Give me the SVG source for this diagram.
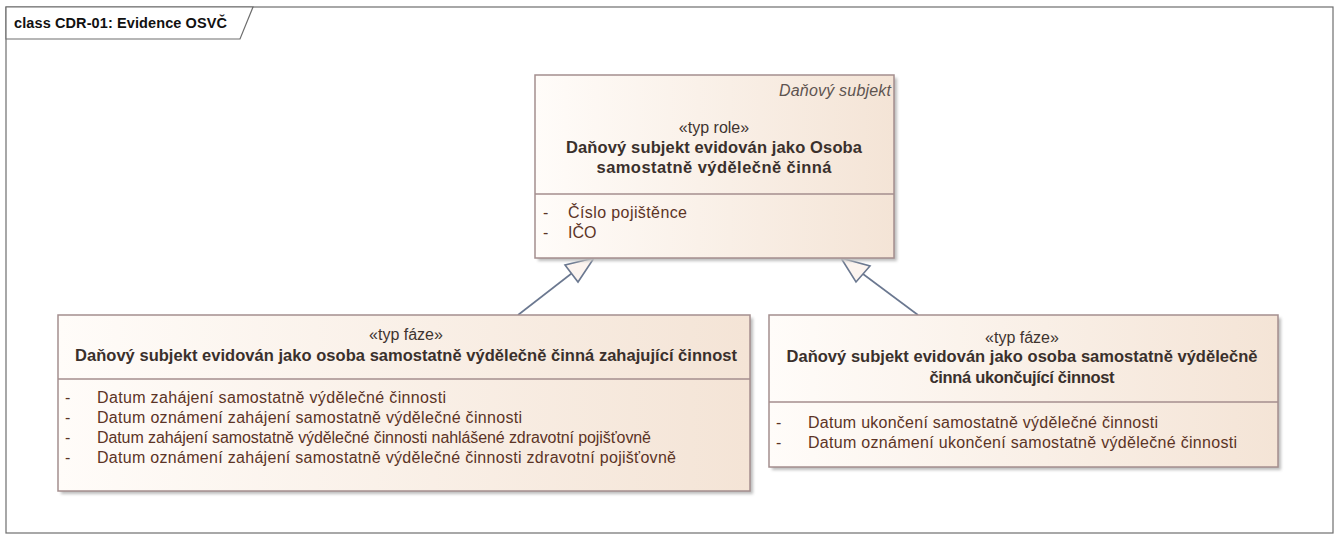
<svg xmlns="http://www.w3.org/2000/svg" width="1339" height="538" viewBox="0 0 1339 538">
<defs>
<linearGradient id="boxfill" x1="0" y1="0" x2="1" y2="0">
<stop offset="0" stop-color="#fffcf9"/>
<stop offset="1" stop-color="#f4e4d6"/>
</linearGradient>
<filter id="shadow" x="-5%" y="-5%" width="110%" height="110%">
<feGaussianBlur stdDeviation="1.5"/>
</filter>
<style>
.frame{fill:#ffffff;stroke:#6e6e6e;stroke-width:1.2}
.tab{fill:#ffffff;stroke:#6e6e6e;stroke-width:1.2}
.ftitle{font-family:"Liberation Sans",Arial,sans-serif;font-size:14.5px;font-weight:bold;fill:#111111}
.shadow{fill:#bdbdbd;filter:url(#shadow)}
.box{fill:url(#boxfill);stroke:#a48e8e;stroke-width:1.5}
.sep{stroke:#a48e8e;stroke-width:1.5}
.ster{font-family:"Liberation Sans",Arial,sans-serif;font-size:16px;fill:#3e3430;text-anchor:middle}
.name{font-family:"Liberation Sans",Arial,sans-serif;font-size:16.5px;font-weight:bold;fill:#3a302c;text-anchor:middle}
.parent{font-family:"Liberation Sans",Arial,sans-serif;font-size:16px;font-style:italic;fill:#5e5450;text-anchor:end}
.attr{font-family:"Liberation Sans",Arial,sans-serif;font-size:16px;fill:#5c3426}
.conn{stroke:#6b7890;stroke-width:1.6;fill:none}
.head{fill:#fcf4ef;stroke:#6b7890;stroke-width:1.6;stroke-linejoin:miter}
</style>
</defs>

<g id="frame">
<rect class="frame" x="6" y="7" width="1327" height="526"/>
<path class="tab" d="M6,7 L253,7 L240,39 L6,39 Z"/>
<text class="ftitle" x="14" y="28" textLength="213">class CDR-01: Evidence OSVČ</text>
</g>

<g id="connectors">
<line class="conn" x1="518" y1="315" x2="571.5" y2="273.5"/>
<polygon class="head" points="594,258 565,265 578,282"/>
<line class="conn" x1="918" y1="315" x2="863" y2="274"/>
<polygon class="head" points="841,258 870,266 856,282"/>
</g>

<g id="node-osvc">
<rect class="shadow" x="538" y="78" width="359" height="183"/>
<rect class="box" x="535" y="75" width="359" height="183"/>
<text class="parent" x="891" y="96" textLength="112">Daňový subjekt</text>
<text class="ster" x="714" y="133">«typ role»</text>
<text class="name" x="714" y="153" textLength="296">Daňový subjekt evidován jako Osoba</text>
<text class="name" x="714" y="173" textLength="235">samostatně výdělečně činná</text>
<line class="sep" x1="535" y1="194" x2="894" y2="194"/>
<text class="attr" x="543" y="218">-</text>
<text class="attr" x="568" y="218" textLength="119">Číslo pojištěnce</text>
<text class="attr" x="543" y="238">-</text>
<text class="attr" x="568" y="238">IČO</text>
</g>

<g id="node-zahajujici">
<rect class="shadow" x="61" y="318" width="692" height="176"/>
<rect class="box" x="58" y="315" width="692" height="176"/>
<text class="ster" x="406" y="340">«typ fáze»</text>
<text class="name" x="406" y="361" textLength="662">Daňový subjekt evidován jako osoba samostatně výdělečně činná zahajující činnost</text>
<line class="sep" x1="58" y1="379" x2="750" y2="379"/>
<text class="attr" x="65" y="403">-</text>
<text class="attr" x="97" y="403" textLength="349">Datum zahájení samostatně výdělečné činnosti</text>
<text class="attr" x="65" y="423">-</text>
<text class="attr" x="97" y="423" textLength="425">Datum oznámení zahájení samostatně výdělečné činnosti</text>
<text class="attr" x="65" y="443">-</text>
<text class="attr" x="97" y="443" textLength="554">Datum zahájení samostatně výdělečné činnosti nahlášené zdravotní pojišťovně</text>
<text class="attr" x="65" y="463">-</text>
<text class="attr" x="97" y="463" textLength="579">Datum oznámení zahájení samostatně výdělečné činnosti zdravotní pojišťovně</text>
</g>

<g id="node-ukoncujici">
<rect class="shadow" x="772" y="318" width="509" height="152"/>
<rect class="box" x="769" y="315" width="509" height="152"/>
<text class="ster" x="1022" y="343">«typ fáze»</text>
<text class="name" x="1022" y="362" textLength="471">Daňový subjekt evidován jako osoba samostatně výdělečně</text>
<text class="name" x="1022" y="383" textLength="185">činná ukončující činnost</text>
<line class="sep" x1="769" y1="402" x2="1278" y2="402"/>
<text class="attr" x="776" y="428">-</text>
<text class="attr" x="808" y="428" textLength="350">Datum ukončení samostatně výdělečné činnosti</text>
<text class="attr" x="776" y="448">-</text>
<text class="attr" x="808" y="448" textLength="429">Datum oznámení ukončení samostatně výdělečné činnosti</text>
</g>
</svg>
